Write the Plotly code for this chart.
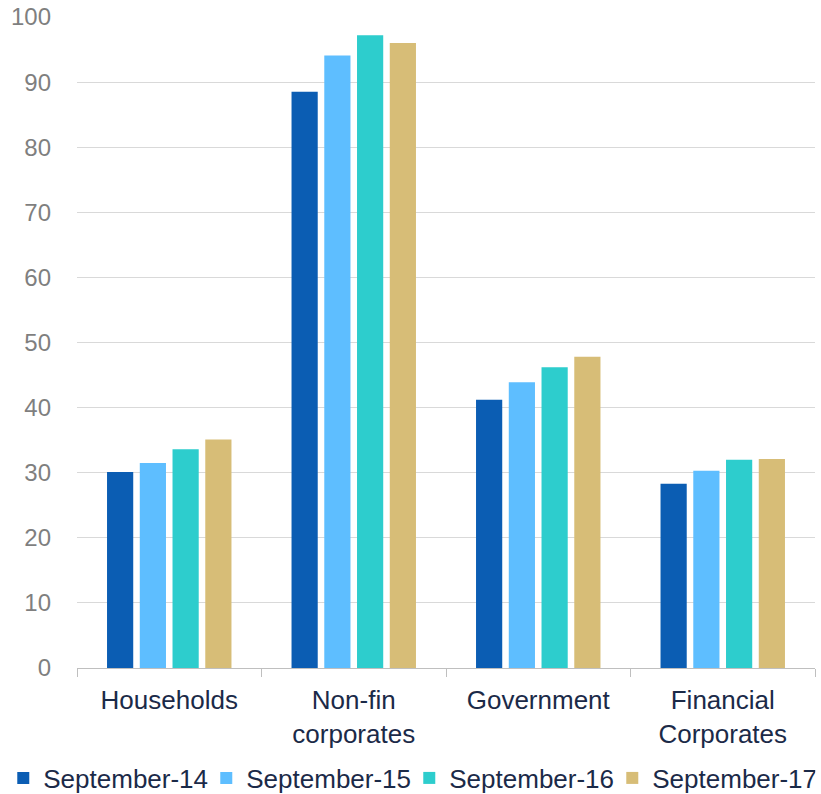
import plotly.graph_objects as go

# Sector categories on the x axis
categories = ["Households", "Non-fin<br>corporates", "Government", "Financial<br>Corporates"]

# One series per reporting period
series_names = ["September-14", "September-15", "September-16", "September-17"]
sep14 = [30.1, 88.5, 41.2, 28.3]
sep15 = [31.5, 94.1, 43.9, 30.3]
sep16 = [33.6, 97.2, 46.2, 32.0]
sep17 = [35.1, 96.0, 47.8, 32.1]

colors = ["#0B5DB3", "#5EBEFF", "#2DCDCD", "#D7BD77"]

y_ticks = [0, 10, 20, 30, 40, 50, 60, 70, 80, 90, 100]

fig = go.Figure()
for name, vals, col in zip(series_names, [sep14, sep15, sep16, sep17], colors):
    fig.add_trace(go.Bar(
        x=categories, y=vals, name=name,
        marker=dict(color=col, line=dict(width=0)),
    ))

font_family = "Liberation Sans, Arial, sans-serif"

fig.update_layout(
    width=821, height=794,
    margin=dict(l=77, r=6, t=17, b=126, autoexpand=False),
    paper_bgcolor="white", plot_bgcolor="white",
    barmode="group", bargap=0.29, bargroupgap=0.2,
    font=dict(family=font_family, size=26, color="#1B2A48"),
    showlegend=True,
    legend=dict(
        orientation="h",
        x=-0.0999, xanchor="left", y=-0.169, yanchor="middle",
        font=dict(size=26, color="#1B2A48"),
        itemwidth=30, traceorder="normal",
        entrywidth=158, entrywidthmode="pixels",
        bgcolor="rgba(0,0,0,0)",
    ),
    xaxis=dict(
        type="category", automargin=False,
        showgrid=False,
        showline=True, linecolor="#BFBFBF", linewidth=1,
        ticks="outside", tickson="boundaries", ticklen=8, tickcolor="#BFBFBF",
        tickfont=dict(size=26, color="#1B2A48"),
        ticklabelstandoff=9,
    ),
    yaxis=dict(
        range=[0, 100], tickvals=y_ticks, automargin=False,
        showgrid=True, gridcolor="#D9D9D9", gridwidth=1,
        zeroline=False, showline=False, ticks="",
        tickfont=dict(size=24, color="#7F7F7F"),
        ticklabelstandoff=25,
    ),
)

fig.write_html("out.html")
